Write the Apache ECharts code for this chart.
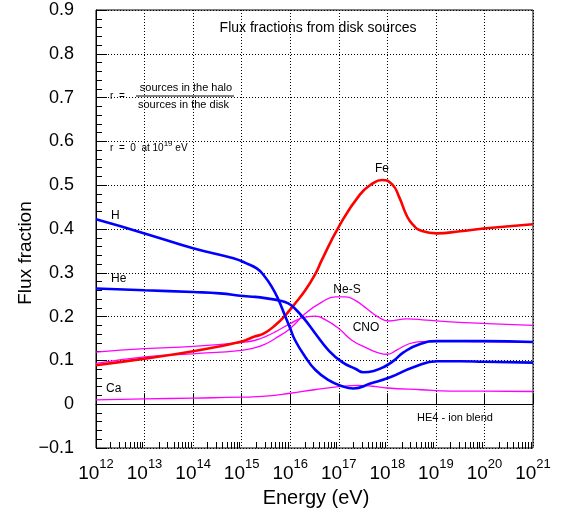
<!DOCTYPE html>
<html><head><meta charset="utf-8">
<script src="https://cdn.jsdelivr.net/npm/echarts@6/dist/echarts.min.js"></script>
<style>html,body{margin:0;padding:0;background:#fff}#c{width:579px;height:516px}</style>
</head><body><div id="c"></div>
<script>
// log10(Energy/eV) and flux fraction
const hExp  = [12,13,14,14.83,15.11,15.31,15.45,15.62,15.76,15.9,16.0,16.1,16.31,16.52,16.79,17.07,17.3,17.65,18.07,18.55,19.03,19.5,20,21];
const hVal  = [0.422,0.390,0.356,0.333,0.321,0.310,0.295,0.268,0.238,0.200,0.173,0.146,0.108,0.078,0.055,0.041,0.036,0.047,0.062,0.085,0.098,0.098,0.097,0.095];
const heExp = [12,13,14,14.55,15.03,15.28,15.55,15.76,15.96,16.1,16.31,16.52,16.79,17.07,17.34,17.51,17.72,17.93,18.14,18.34,18.69,19.03,19.5,20,21];
const heVal = [0.264,0.260,0.256,0.253,0.247,0.245,0.241,0.237,0.230,0.218,0.192,0.161,0.123,0.096,0.081,0.073,0.076,0.085,0.100,0.119,0.138,0.144,0.144,0.144,0.142];
const feExp = [12,13,14,14.96,15.28,15.45,15.69,15.9,16.1,16.31,16.52,16.65,17.0,17.43,17.7,17.89,18.1,18.24,18.41,18.55,18.67,19.02,19.5,19.98,21];
const feVal = [0.089,0.104,0.121,0.142,0.155,0.161,0.180,0.203,0.230,0.260,0.298,0.329,0.405,0.478,0.504,0.512,0.502,0.474,0.428,0.407,0.397,0.390,0.395,0.401,0.411];
const nesExp = [12,13,14,15,15.28,15.5,15.69,16.0,16.31,16.65,16.93,17.14,17.34,17.58,17.8,18.03,18.41,18.8,19.3,20.06,21];
const nesVal = [0.093,0.108,0.115,0.123,0.129,0.138,0.150,0.173,0.207,0.233,0.245,0.245,0.237,0.218,0.200,0.190,0.195,0.192,0.188,0.184,0.180];
const cnoExp = [12,13,14,15,15.28,15.5,15.69,16.0,16.31,16.52,16.72,17.0,17.27,17.58,17.8,18.0,18.2,18.45,18.7,19.03,20,21];
const cnoVal = [0.119,0.127,0.132,0.141,0.146,0.155,0.165,0.184,0.199,0.201,0.193,0.173,0.146,0.128,0.118,0.114,0.124,0.138,0.143,0.144,0.143,0.142];
const caExp = [12,13,14,15,15.5,16,16.5,17,17.4,17.7,18.0,18.69,19.3,20,21];
const caVal = [0.010,0.012,0.014,0.016,0.0185,0.025,0.033,0.040,0.043,0.041,0.037,0.033,0.030,0.030,0.029];

const xMinExp = 12, xMaxExp = 21;

function pts(ex, v){ return ex.map((e,i)=>[Math.pow(10,e), v[i]]); }
const minorPos = [];
for (let n = xMinExp; n < xMaxExp; n++) for (let k = 2; k <= 9; k++) minorPos.push(n + Math.log10(k));

const FONT = "'Liberation Sans', Arial, Helvetica, sans-serif";
const chart = echarts.init(document.getElementById('c'), null, {renderer:'canvas'});
function line(name, ex, v, color, w){
  return {name, type:'line', xAxisIndex:0, yAxisIndex:0, data: pts(ex,v), showSymbol:false, symbol:'none',
    smooth:0.5, lineStyle:{color, width:w}, itemStyle:{color}, animation:false, silent:true};
}
chart.setOption({
  animation:false,
  backgroundColor:'#fff',
  textStyle:{fontFamily:FONT},
  grid:{left:96, right:46, top:10, bottom:68, show:true, borderColor:'#000', borderWidth:1, backgroundColor:'transparent'},
  xAxis:[{
    type:'log', logBase:10, min:Math.pow(10,xMinExp), max:Math.pow(10,xMaxExp), position:'bottom',
    axisLine:{show:true, lineStyle:{color:'#000', width:1}},
    axisTick:{show:true, inside:true, length:11, lineStyle:{color:'#000'}},
    splitLine:{show:true, lineStyle:{color:'#000', type:[1,2], width:1}},
    axisLabel:{show:true, margin:10, color:'#000',
      formatter:(v)=> '{b|10}{s|' + Math.round(Math.log10(v)) + '}',
      rich:{ b:{fontSize:19, fontFamily:FONT, color:'#000', lineHeight:25, verticalAlign:'bottom'},
             s:{fontSize:13, fontFamily:FONT, color:'#000', lineHeight:13, verticalAlign:'top'} } }
  },{
    type:'value', min:xMinExp, max:xMaxExp, position:'bottom',
    axisLine:{show:false}, axisLabel:{show:false}, splitLine:{show:false},
    axisTick:{show:true, inside:true, length:6, customValues:minorPos, lineStyle:{color:'#000'}}
  }],
  yAxis:{
    type:'value', min:-0.1, max:0.9, interval:0.1,
    axisLine:{show:true, lineStyle:{color:'#000'}},
    axisTick:{show:true, inside:true, length:11, lineStyle:{color:'#000'}},
    minorTick:{show:true, splitNumber:5, length:6, lineStyle:{color:'#000'}},
    splitLine:{show:true, lineStyle:{color:'#000', type:[1,2], width:1}},
    axisLabel:{fontSize:18, color:'#000', margin:22, fontFamily:FONT,
      formatter:(v)=>{ const r = Math.round(v*10)/10; return r===0 ? '0' : String(r).replace('-', '\u2212'); } }
  },
  series:[
    line('Ca', caExp, caVal, '#ff00ff', 1.3),
    line('CNO', cnoExp, cnoVal, '#ff00ff', 1.3),
    line('Ne-S', nesExp, nesVal, '#ff00ff', 1.3),
    line('Fe', feExp, feVal, '#ff0000', 2.6),
    line('He', heExp, heVal, '#0000ff', 2.6),
    line('H', hExp, hVal, '#0000ff', 2.6)
  ],
  graphic:[
    {type:'text', x:318, y:28, style:{text:'Flux fractions from disk sources', font:'14px '+FONT, fill:'#000', align:'center', verticalAlign:'middle'}},
    {type:'text', x:110, y:96, style:{text:'r  =', font:'10px '+FONT, fill:'#000', align:'left', verticalAlign:'middle'}},
    {type:'text', x:186, y:88, style:{text:'sources in the halo', font:'11px '+FONT, fill:'#000', align:'center', verticalAlign:'middle'}},
    {type:'line', shape:{x1:136, y1:96, x2:234, y2:96}, style:{stroke:'#000', lineWidth:1}},
    {type:'text', x:138, y:105, style:{text:'sources in the disk', font:'11px '+FONT, fill:'#000', align:'left', verticalAlign:'middle'}},
    {type:'text', x:110, y:148, style:{text:'r  =  0  at 10{s|19} eV', font:'10px '+FONT, fill:'#000', align:'left', verticalAlign:'middle',
      rich:{s:{font:'8px '+FONT, fill:'#000', padding:[0,0,8,0]}}}},
    {type:'text', x:111, y:216, style:{text:'H', font:'12px '+FONT, fill:'#000', align:'left', verticalAlign:'middle'}},
    {type:'text', x:111, y:279, style:{text:'He', font:'12px '+FONT, fill:'#000', align:'left', verticalAlign:'middle'}},
    {type:'text', x:106, y:389, style:{text:'Ca', font:'12px '+FONT, fill:'#000', align:'left', verticalAlign:'middle'}},
    {type:'text', x:382, y:169, style:{text:'Fe', font:'12px '+FONT, fill:'#000', align:'center', verticalAlign:'middle'}},
    {type:'text', x:347, y:290, style:{text:'Ne-S', font:'12px '+FONT, fill:'#000', align:'center', verticalAlign:'middle'}},
    {type:'text', x:366, y:328, style:{text:'CNO', font:'12px '+FONT, fill:'#000', align:'center', verticalAlign:'middle'}},
    {type:'text', x:455, y:418, style:{text:'HE4 - ion blend', font:'11px '+FONT, fill:'#000', align:'center', verticalAlign:'middle'}},
    {type:'text', x:26, y:253, rotation:Math.PI/2, style:{text:'Flux fraction', font:'19px '+FONT, fill:'#000', align:'center', verticalAlign:'middle'}},
    {type:'text', x:316, y:498, style:{text:'Energy (eV)', font:'20px '+FONT, fill:'#000', align:'center', verticalAlign:'middle'}}
  ]
});
</script></body></html>
